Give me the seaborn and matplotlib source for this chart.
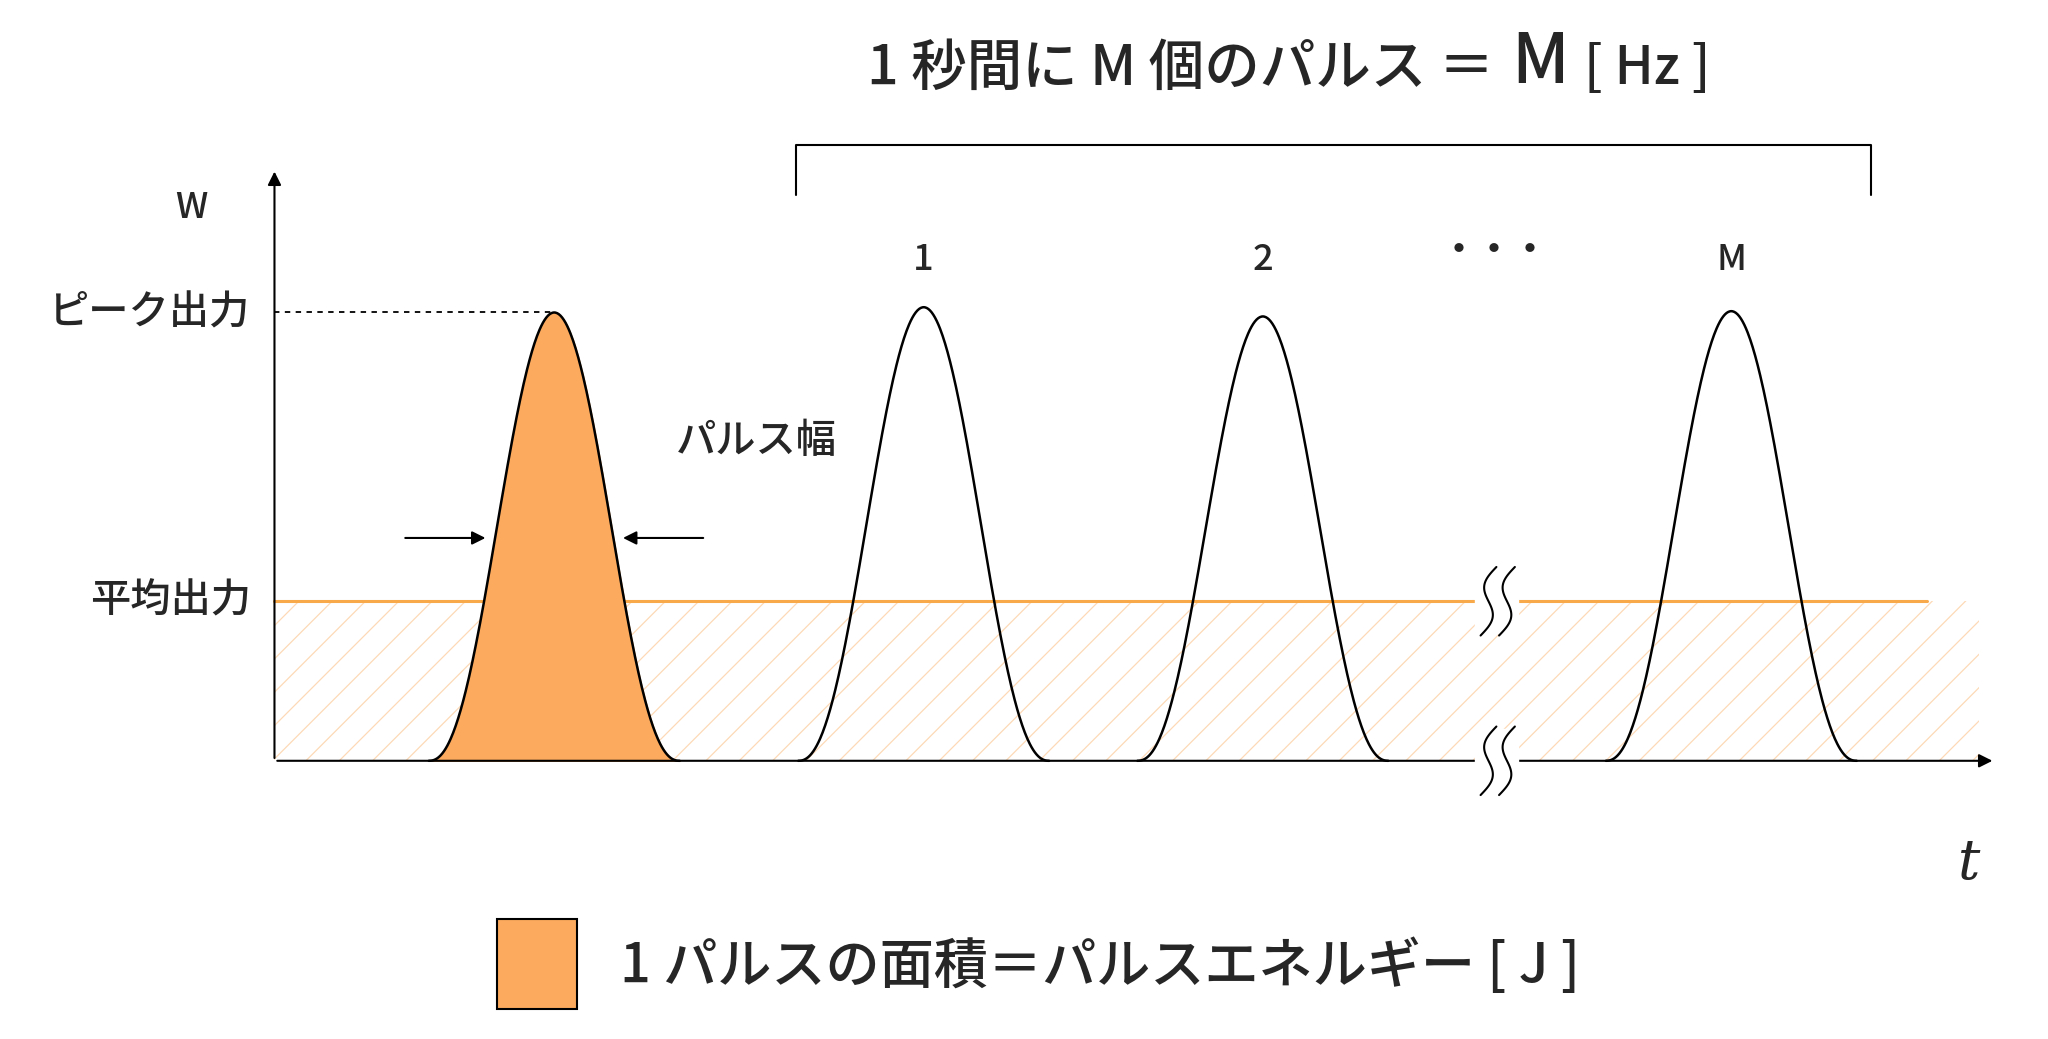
import numpy as np
import matplotlib
matplotlib.use("Agg")
import matplotlib.pyplot as plt
import seaborn as sns

sns.set_theme(style="white")
plt.rcParams['font.family'] = ['Noto Sans CJK JP', 'DejaVu Sans']
plt.rcParams['hatch.linewidth'] = 0.9

# data (image coordinates, y downward)
pulse_centers = [700, 957, 1312]
pulse_peaks = [233, 240, 236]
pulse_labels = ["1", "2", "M"]
filled_center = 420
filled_peak = 237
baseline = 577
avg_level = 456
half_width = 95
ORANGE = "#FBAA5E"
LINE_OR = "#F8A94A"

fig = plt.figure(figsize=(20.48, 10.39), dpi=100)
ax = fig.add_axes([0, 0, 1, 1])
ax.set_xlim(0, 1552)
ax.set_ylim(788, 0)
ax.axis("off")

def pulse(c, peak):
    x = np.linspace(c - half_width, c + half_width, 300)
    u = (x - c) / half_width
    shape = ((1 + np.cos(np.pi * u)) / 2) ** 1.15
    return x, baseline - (baseline - peak) * shape

# hatched average region
ax.fill_between([208, 1500], avg_level, baseline, facecolor="none",
                edgecolor=ORANGE, hatch="/", linewidth=0, alpha=0.45)
ax.plot([208, 1460], [avg_level, avg_level], color=LINE_OR, lw=2.2)

# filled pulse
x, y = pulse(filled_center, filled_peak)
ax.fill_between(x, y, baseline, color=ORANGE, zorder=3)
ax.plot(x, y, color="black", lw=1.8, zorder=4)

for c, p, lab in zip(pulse_centers, pulse_peaks, pulse_labels):
    x, y = pulse(c, p)
    ax.plot(x, y, color="black", lw=1.8, zorder=4)
    ax.text(c, 197, lab, ha="center", va="center", fontsize=26, fontweight="medium")

# axes arrows
ax.annotate("", xy=(208, 128), xytext=(208, baseline),
            arrowprops=dict(arrowstyle="-|>", color="black", lw=1.5, mutation_scale=20))
ax.annotate("", xy=(1512, baseline), xytext=(208, baseline),
            arrowprops=dict(arrowstyle="-|>", color="black", lw=1.5, mutation_scale=20))
ax.text(145, 158, "W", ha="center", va="center", fontsize=26, fontweight="medium")
ax.text(1492, 655, "t", ha="center", va="center", fontsize=40,
        family="DejaVu Serif", style="italic")

# peak dashed line
ax.plot([208, filled_center], [filled_peak, filled_peak], color="black", lw=1.3, ls=(0, (3, 3)))
ax.text(190, filled_peak, "ピーク出力", ha="right", va="center", fontsize=29, fontweight="medium")
ax.text(190, avg_level, "平均出力", ha="right", va="center", fontsize=29, fontweight="medium")

# pulse width arrows
ax.annotate("", xy=(370, 408), xytext=(305, 408),
            arrowprops=dict(arrowstyle="-|>", color="black", lw=1.5, mutation_scale=20))
ax.annotate("", xy=(470, 408), xytext=(535, 408),
            arrowprops=dict(arrowstyle="-|>", color="black", lw=1.5, mutation_scale=20))
ax.text(573, 335, "パルス幅", ha="center", va="center", fontsize=29, fontweight="medium")

# bracket and title
ax.plot([603, 603, 1418, 1418], [148, 110, 110, 148], color="black", lw=1.5)
ax.text(1132, 52, "1 秒間に M 個のパルス ＝", ha="right", va="center", fontsize=40, fontweight="medium")
ax.text(1145, 48, "M", ha="left", va="center", fontsize=50, fontweight="medium")
ax.text(1200, 52, "[ Hz ]", ha="left", va="center", fontsize=38, fontweight="medium")

# dots
ax.text(1133, 190, "・・・", ha="center", va="center", fontsize=26, fontweight="bold")

# break marks
for yb in [avg_level, baseline]:
    ax.add_patch(plt.Rectangle((1118, yb - 24), 32, 48, color="white", zorder=5))
    t = np.linspace(-1, 1, 50)
    for dx in [-7, 7]:
        xs = 1135 + dx + 6 * np.sin(np.pi * t) - 6 * t
        ys = yb + 26 * t
        ax.plot(xs, ys, color="black", lw=1.5, zorder=6)

# legend
ax.add_patch(plt.Rectangle((377, 697), 60, 68, facecolor=ORANGE, edgecolor="black", lw=1.5))
ax.text(470, 733, "1 パルスの面積＝パルスエネルギー [ J ]", ha="left", va="center",
        fontsize=39, fontweight="medium")

fig.savefig("out.png", dpi=100, facecolor="white")
